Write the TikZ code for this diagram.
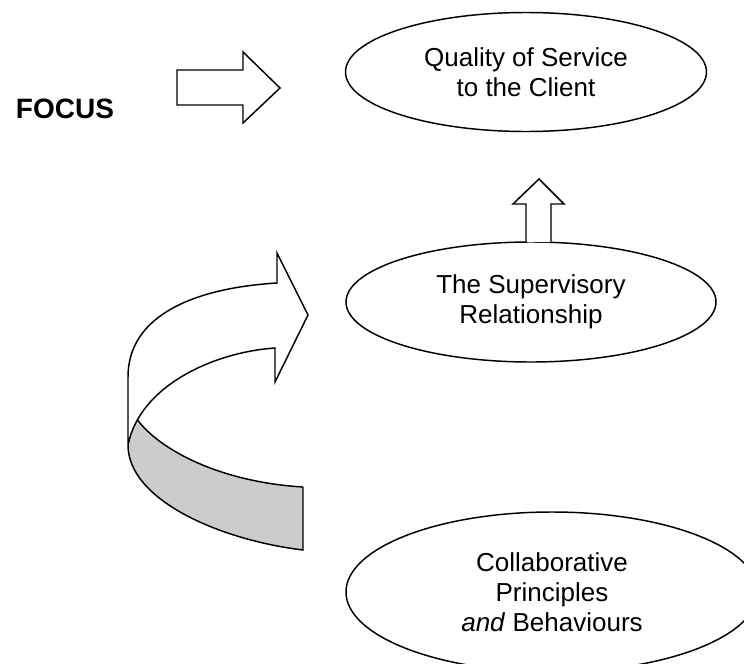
\documentclass[tikz,border=0pt]{standalone}
\usepackage{fontspec}
\setmainfont{Liberation Sans}
\usetikzlibrary{shapes.geometric}
\definecolor{ribbongrey}{HTML}{CCCCCC}
\begin{document}
\begin{tikzpicture}[x=0.75pt,y=-0.75pt,line width=1.1pt,line join=miter,
  bubble/.style={ellipse,draw,inner sep=0pt,align=center,
    font=\fontsize{19.5}{22.5}\selectfont},
  blockarrow/.style={draw,fill=white,line join=miter},
  ribbon/.style={draw,line join=miter}]
\clip (0,0) rectangle (744,664);
% ellipses
\node[bubble,minimum width=270.75pt,minimum height=89.25pt] (quality) at (526,72)
  {Quality of Service\\to the Client};
\node[bubble,minimum width=277.5pt,minimum height=90pt] (relation) at (531,302)
  {The Supervisory\\Relationship};
\node[bubble,minimum width=309pt,minimum height=120pt] (collab) at (552,592)
  {Collaborative\\Principles\\\textit{and} Behaviours};
% focus label
\node[anchor=base,font=\fontsize{21}{25}\selectfont\bfseries,inner sep=0pt] (focus) at (65,118) {FOCUS};
% right block arrow
\draw[blockarrow] (177,70) -- (243,70) -- (243,52) -- (280,88) -- (243,123) -- (243,105) -- (177,105) -- cycle;
% up block arrow standing on the middle ellipse
\coordinate (upL) at (526,242);
\coordinate (upR) at (551,242);
\draw[blockarrow] (upL) -- (526,204) -- (513,204) -- (539,179) -- (564,204) -- (551,204) -- (upR);
% curved ribbon arrow
\coordinate (junc) at (137.38,419.8);
\coordinate (vbot) at (128,445);
\fill[ribbongrey] (junc) .. controls (133.0,427.6) and (129.8,436) .. (vbot)
  .. controls (128,500) and (220,540) .. (303,550) -- (303,487)
  .. controls (220,482) and (160,450) .. (junc) -- cycle;
\draw[ribbon] (303,487) -- (303,550) .. controls (220,540) and (128,500) .. (vbot)
  -- (128,377) .. controls (128,315) and (195,288) .. (277,283)
  -- (277,253) -- (308,315) -- (275,382) -- (275,348)
  .. controls (215,352) and (140,385) .. (vbot);
\draw[ribbon] (junc) .. controls (160,450) and (220,482) .. (303,487);
\end{tikzpicture}
\end{document}
